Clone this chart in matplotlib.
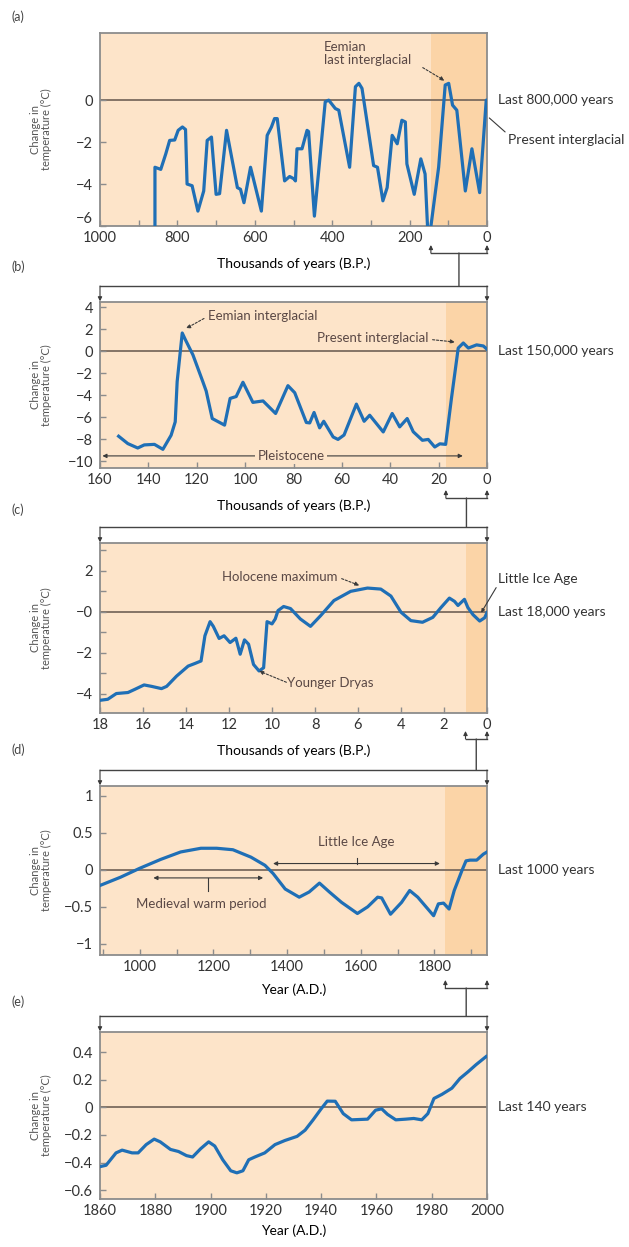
import matplotlib
matplotlib.use("Agg")
import matplotlib.pyplot as plt
import matplotlib.transforms as mtransforms
from matplotlib.patches import ConnectionPatch
from matplotlib.ticker import MultipleLocator, FixedLocator, FixedFormatter

# ---- data ----
# (a) last 800,000 years: thousands of years BP, deg C
a_kyr = [858, 858, 843, 830, 820, 807, 798, 787, 779, 775, 762, 747, 732, 723, 712, 700,
         691, 673, 645, 637, 628, 611, 583, 568, 557, 549, 542, 523, 510, 499, 495, 491,
         478, 465, 461, 446, 418, 409, 392, 383, 355, 340, 331, 323, 293, 283, 269, 258,
         245, 232, 220, 211, 207, 188, 171, 160, 153, 147, 125, 108, 99, 89, 78, 56, 39,
         19, 2, 0]
a_temp = [-6.5, -3.2, -3.3, -2.56, -1.92, -1.9, -1.44, -1.28, -1.4, -4.0, -4.08, -5.29,
          -4.33, -1.92, -1.76, -4.49, -4.46, -1.44, -4.17, -4.25, -4.89, -3.2, -5.29, -1.68,
          -1.28, -0.88, -0.88, -3.85, -3.64, -3.75, -3.85, -2.32, -2.32, -1.44, -1.5, -5.53,
          -0.08, 0.0, -0.4, -0.48, -3.2, 0.64, 0.8, 0.56, -3.12, -3.2, -4.8, -4.17, -1.68,
          -2.08, -0.96, -1.04, -3.04, -4.49, -2.8, -3.52, -6.3, -6.3, -3.2, 0.72, 0.8, -0.24,
          -0.48, -4.33, -2.32, -4.41, 0.0, 0.0]

# (b) last 150,000 years
b_kyr = [152.3, 148.5, 144.4, 141.7, 137.5, 134.0, 130.6, 128.9, 128.1, 126.0, 124.7, 121.6,
         117.5, 116.1, 113.6, 108.5, 106.2, 103.7, 100.9, 96.8, 92.6, 87.4, 82.3, 79.5, 74.7,
         73.3, 71.5, 69.2, 67.5, 63.6, 61.6, 59.1, 54.0, 50.8, 48.5, 42.9, 39.2, 36.1, 33.0,
         30.5, 26.7, 24.3, 21.6, 19.5, 17.1, 14.7, 11.9, 9.8, 7.7, 4.3, 1.5, 0.0]
b_temp = [-7.71, -8.38, -8.78, -8.5, -8.45, -8.9, -7.62, -6.4, -2.74, 1.68, 1.07, -0.3,
          -2.74, -3.6, -6.1, -6.7, -4.27, -4.1, -2.8, -4.63, -4.5, -5.64, -3.11, -3.75, -6.46,
          -6.5, -5.55, -6.95, -6.35, -7.78, -8.0, -7.6, -4.79, -6.35, -5.8, -7.32, -5.64, -6.86,
          -6.1, -7.3, -8.08, -8.0, -8.69, -8.4, -8.45, -4.27, 0.31, 0.77, 0.31, 0.6, 0.5, 0.2]

# (c) last 18,000 years
c_kyr = [18.0, 17.64, 17.24, 16.7, 16.39, 15.95, 15.6, 15.14, 14.9, 14.44, 13.9, 13.58, 13.3,
         13.12, 12.88, 12.73, 12.46, 12.23, 11.95, 11.68, 11.48, 11.28, 11.09, 10.86, 10.6,
         10.39, 10.23, 10.0, 9.85, 9.72, 9.46, 9.14, 8.68, 8.21, 7.74, 7.12, 6.34, 5.56, 4.94,
         4.47, 4.0, 3.54, 3.0, 2.52, 2.14, 1.75, 1.51, 1.35, 1.05, 0.89, 0.65, 0.34, 0.11, 0.0]
c_temp = [-4.33, -4.28, -4.0, -3.95, -3.8, -3.58, -3.65, -3.76, -3.65, -3.15, -2.66, -2.53,
          -2.41, -1.18, -0.49, -0.72, -1.31, -1.18, -1.51, -1.3, -2.08, -1.38, -1.59, -2.58,
          -2.9, -2.74, -0.49, -0.6, -0.36, 0.05, 0.25, 0.15, -0.36, -0.72, -0.2, 0.54, 0.99,
          1.15, 1.1, 0.76, -0.03, -0.44, -0.52, -0.28, 0.2, 0.66, 0.5, 0.3, 0.6, 0.2, -0.15,
          -0.46, -0.3, -0.05]

# (d) last 1000 years (year AD)
d_year = [893, 948, 1000, 1057, 1111, 1166, 1209, 1253, 1302, 1340, 1362, 1395, 1433, 1460,
          1488, 1515, 1548, 1591, 1619, 1646, 1657, 1681, 1711, 1733, 1755, 1798, 1811, 1825,
          1840, 1854, 1875, 1886, 1897, 1915, 1933, 1943]
d_temp = [-0.21, -0.1, 0.02, 0.14, 0.24, 0.29, 0.29, 0.27, 0.17, 0.06, -0.05, -0.26, -0.37,
          -0.30, -0.18, -0.30, -0.44, -0.59, -0.5, -0.37, -0.38, -0.6, -0.44, -0.28, -0.37,
          -0.62, -0.46, -0.45, -0.53, -0.28, -0.01, 0.12, 0.13, 0.13, 0.21, 0.24]

# (e) last 140 years
e_year = [1860, 1862.2, 1865.8, 1868, 1871.6, 1873.8, 1876.7, 1879.6, 1881.8, 1885.5, 1888.4,
          1891.3, 1893.5, 1896.4, 1899.3, 1901.5, 1904.4, 1907.3, 1909.5, 1911.7, 1913.8, 1916,
          1919.6, 1923.3, 1926.9, 1931.3, 1934.2, 1937.1, 1940, 1942.2, 1945.1, 1948, 1951,
          1956.8, 1959.7, 1961.9, 1964, 1967, 1970.6, 1973.5, 1976.4, 1978.6, 1980.8, 1983.7,
          1987.3, 1990.2, 1993.2, 1996, 1999.7]
e_temp = [-0.43, -0.42, -0.33, -0.31, -0.33, -0.33, -0.27, -0.23, -0.25, -0.305, -0.32, -0.35,
          -0.36, -0.3, -0.25, -0.28, -0.38, -0.46, -0.475, -0.46, -0.38, -0.36, -0.33, -0.27,
          -0.24, -0.21, -0.165, -0.09, -0.01, 0.046, 0.045, -0.045, -0.09, -0.085, -0.02, -0.01,
          -0.05, -0.09, -0.085, -0.08, -0.09, -0.045, 0.065, 0.095, 0.14, 0.21, 0.26, 0.31, 0.37]

# shaded (zoomed-in) span of each panel
SHADE = {"a": (145, 0), "b": (17, 0), "c": (1.0, 0), "d": (1830, 1943)}

# ---- style ----
W, H = 629, 1247
BLUE = "#1f6fb6"
LIGHT = "#fde4c9"
DARK = "#fbd4a7"
TXT = "#333333"
ANN = "#5a4845"
SPINE = "#8c8c8c"
plt.rcParams.update({"font.family": ["Lato", "DejaVu Sans"], "font.size": 10,
                     "text.color": TXT, "xtick.color": SPINE, "ytick.color": SPINE,
                     "xtick.labelcolor": TXT, "ytick.labelcolor": TXT,
                     "xtick.direction": "in", "ytick.direction": "in",
                     "xtick.major.size": 4, "ytick.major.size": 4,
                     "xtick.minor.size": 4, "ytick.minor.size": 4,
                     "xtick.labelsize": 10.5, "ytick.labelsize": 10.5})

fig = plt.figure(figsize=(W / 100, H / 100), dpi=100)


def add_ax(top, bottom):
    ax = fig.add_axes([100 / W, 1 - bottom / H, 387 / W, (bottom - top) / H])
    ax.set_facecolor(LIGHT)
    for s in ax.spines.values():
        s.set_color(SPINE)
        s.set_linewidth(1.3)
    ax.axhline(0, color="#7b6b5e", lw=1.3, zorder=1)
    ax.set_ylabel("Change in\ntemperature (\u00b0C)", fontsize=8, color="#555555",
                  linespacing=0.95)
    ax.yaxis.set_label_coords(-0.125, 0.5)
    ax.tick_params(axis="y", pad=5)
    ax.tick_params(which="both", width=1)
    return ax


def right_text(ax, y, s, dx=1.028, **kw):
    tr = mtransforms.blended_transform_factory(ax.transAxes, ax.transData)
    ax.text(dx, y, s, transform=tr, va="center", ha="left", fontsize=10, clip_on=False, **kw)


def arrow(ax, xy, xytext, style="-|>", ls="-", **kw):
    ax.annotate("", xy=xy, xytext=xytext, annotation_clip=False,
                arrowprops=dict(arrowstyle=style, color="#3a3a3a", lw=0.8, ls=ls,
                                mutation_scale=6, shrinkA=0, shrinkB=0), **kw)


def top_strip(ax, h):
    dy = 1 + 16 / h
    ax.plot([0, 1], [dy, dy], transform=ax.transAxes, color="#444444", lw=1.0, clip_on=False)
    for x in (0, 1):
        arrow(ax, (x, 1.004), (x, dy), xycoords="axes fraction")
    return dy


def bottom_bracket(ax, x0, x1, h, below=27):
    tr = mtransforms.blended_transform_factory(ax.transData, ax.transAxes)
    y = -below / h
    ax.plot([x0, x1], [y, y], transform=tr, color="#444444", lw=1.0, clip_on=False)
    for x in (x0, x1):
        arrow(ax, (x, y + 8 / h), (x, y), xycoords=tr)
    return tr, y


def stem(ax_up, ax_dn, xmid, y_up, y_dn):
    trA = mtransforms.blended_transform_factory(ax_up.transData, ax_up.transAxes)
    trB = mtransforms.blended_transform_factory(ax_up.transData, ax_dn.transAxes)
    con = ConnectionPatch(xyA=(xmid, y_up), coordsA=trA, xyB=(xmid, y_dn), coordsB=trB,
                          color="#444444", lw=1.0)
    fig.add_artist(con)


rects = {"a": (33, 226), "b": (302, 468), "c": (543, 713), "d": (786, 955), "e": (1032, 1199)}
letter_y = {"a": 17, "b": 267, "c": 510, "d": 750, "e": 1002}
axs = {k: add_ax(*v) for k, v in rects.items()}
hts = {k: v[1] - v[0] for k, v in rects.items()}
LW = 2.3

# ---- (a) ----
ax = axs["a"]
ax.set_xlim(1000, 0)
ax.set_ylim(-6, 3.2)
ax.axvspan(*SHADE["a"], color=DARK, lw=0, zorder=0)
ax.plot(a_kyr, a_temp, color=BLUE, lw=LW, solid_joinstyle="round", zorder=3)
ax.xaxis.set_major_locator(MultipleLocator(200))
ax.xaxis.set_minor_locator(MultipleLocator(100))
ax.set_yticks([0, -2, -4, -6])
ax.get_yticklabels()[-1].set_va("bottom")
ax.set_xlabel("Thousands of years (B.P.)", labelpad=9)
ax.text(422, 2.2, "Eemian\nlast interglacial", color=ANN, fontsize=9.5, va="center",
        linespacing=1.1)
arrow(ax, (110, 0.93), (166, 1.55), ls=(0, (2, 1.5)))
right_text(ax, 0, "Last 800,000 years")
trr = mtransforms.blended_transform_factory(ax.transAxes, ax.transData)
ax.annotate("Present interglacial", xy=(1.006, -0.85), xycoords=trr, xytext=(1.054, -1.92),
            textcoords=trr, va="center", ha="left", fontsize=10, annotation_clip=False,
            arrowprops=dict(arrowstyle="-", color="#3a3a3a", lw=0.8, shrinkA=0, shrinkB=0,
                            relpos=(0, 1)))

# ---- (b) ----
ax = axs["b"]
ax.set_xlim(160, 0)
ax.set_ylim(-10.6, 4.5)
ax.axvspan(*SHADE["b"], color=DARK, lw=0, zorder=0)
ax.plot(b_kyr, b_temp, color=BLUE, lw=LW, solid_joinstyle="round", zorder=3)
ax.xaxis.set_major_locator(MultipleLocator(20))
ax.set_yticks([4, 2, 0, -2, -4, -6, -8, -10])
ax.set_xlabel("Thousands of years (B.P.)", labelpad=9)
ax.text(115.5, 3.2, "Eemian interglacial", color=ANN, fontsize=9.5, va="center")
arrow(ax, (124.4, 2.1), (117, 3.0), ls=(0, (2, 1.5)))
ax.text(24.2, 1.25, "Present interglacial", color=ANN, fontsize=9.5, va="center", ha="right")
arrow(ax, (13.3, 0.86), (22.5, 1.07), ls=(0, (2, 1.5)))
arrow(ax, (159, -9.5), (10, -9.5), style="<|-|>")
ax.text(81, -9.5, "Pleistocene", color=ANN, fontsize=9.5, va="center", ha="center",
        bbox=dict(facecolor=LIGHT, edgecolor="none", pad=1.5))
right_text(ax, 0, "Last 150,000 years")

# ---- (c) ----
ax = axs["c"]
ax.set_xlim(18, 0)
ax.set_ylim(-4.95, 3.35)
ax.axvspan(*SHADE["c"], color=DARK, lw=0, zorder=0)
ax.plot(c_kyr, c_temp, color=BLUE, lw=LW, solid_joinstyle="round", zorder=3)
ax.xaxis.set_major_locator(MultipleLocator(2))
yt = [3, 2, 1, 0, -1, -2, -3, -4]
ax.yaxis.set_major_locator(FixedLocator(yt))
ax.yaxis.set_major_formatter(FixedFormatter(["", "2", "", "\u22120", "", "\u22122", "",
                                             "\u22124"]))
ax.set_xlabel("Thousands of years (B.P.)", labelpad=9)
ax.text(6.96, 1.7, "Holocene maximum", color=ANN, fontsize=9.5, va="center", ha="right")
arrow(ax, (5.94, 1.28), (6.76, 1.61), ls=(0, (2, 1.5)))
ax.text(9.28, -3.5, "Younger Dryas", color=ANN, fontsize=9.5, va="center", ha="left")
arrow(ax, (10.6, -2.9), (9.33, -3.45), ls=(0, (2, 1.5)))
right_text(ax, 0, "Last 18,000 years")
trr = mtransforms.blended_transform_factory(ax.transAxes, ax.transData)
ax.annotate("Little Ice Age", xy=(0.27, -0.05), xycoords="data", xytext=(1.028, 1.6),
            textcoords=trr, va="center", ha="left", fontsize=10, annotation_clip=False,
            arrowprops=dict(arrowstyle="-|>", color="#3a3a3a", lw=0.8, shrinkA=0, shrinkB=0,
                            mutation_scale=5, relpos=(0, 0)))

# ---- (d) ----
ax = axs["d"]
ax.set_xlim(892, 1943)
ax.set_ylim(-1.15, 1.13)
ax.axvspan(*SHADE["d"], color=DARK, lw=0, zorder=0)
ax.plot(d_year, d_temp, color=BLUE, lw=LW, solid_joinstyle="round", zorder=3)
ax.xaxis.set_major_locator(MultipleLocator(200))
ax.xaxis.set_minor_locator(MultipleLocator(100))
ax.set_yticks([1, 0.5, 0, -0.5, -1])
ax.set_yticklabels(["1", "0.5", "0", "\u22120.5", "\u22121"])
ax.set_xlabel("Year (A.D.)", labelpad=7)
arrow(ax, (1362, 0.084), (1815, 0.084), style="<|-|>")
ax.plot([1591, 1591], [0.084, 0.16], color="#3a3a3a", lw=0.8)
ax.text(1589, 0.38, "Little Ice Age", color=ANN, fontsize=9.5, va="center", ha="center")
arrow(ax, (1037, -0.11), (1335, -0.11), style="<|-|>")
ax.plot([1185, 1185], [-0.11, -0.28], color="#3a3a3a", lw=0.8)
ax.text(1166, -0.46, "Medieval warm period", color=ANN, fontsize=9.5, va="center",
        ha="center")
right_text(ax, 0, "Last 1000 years")

# ---- (e) ----
ax = axs["e"]
ax.set_xlim(1860, 2000)
ax.set_ylim(-0.665, 0.548)
ax.plot(e_year, e_temp, color=BLUE, lw=LW, solid_joinstyle="round", zorder=3)
ax.xaxis.set_major_locator(MultipleLocator(20))
ax.set_yticks([0.4, 0.2, 0, -0.2, -0.4, -0.6])
ax.set_yticklabels(["0.4", "0.2", "0", "\u22120.2", "\u22120.4", "\u22120.6"])
ax.set_xlabel("Year (A.D.)", labelpad=5)
right_text(ax, 0, "Last 140 years")

# ---- zoom brackets linking the panels ----
order = ["a", "b", "c", "d", "e"]
below = {"a": 27, "b": 30, "c": 26, "d": 33}
for up, dn in zip(order[:-1], order[1:]):
    x0, x1 = SHADE[up]
    tr, y = bottom_bracket(axs[up], x0, x1, hts[up], below[up])
    dy = top_strip(axs[dn], hts[dn])
    stem(axs[up], axs[dn], (x0 + x1) / 2, y, dy)

# panel letters
for k, yl in letter_y.items():
    fig.text(12 / W, 1 - yl / H, f"({k})", fontsize=9, color="#444444", va="center")

fig.savefig("out.png", dpi=100)
